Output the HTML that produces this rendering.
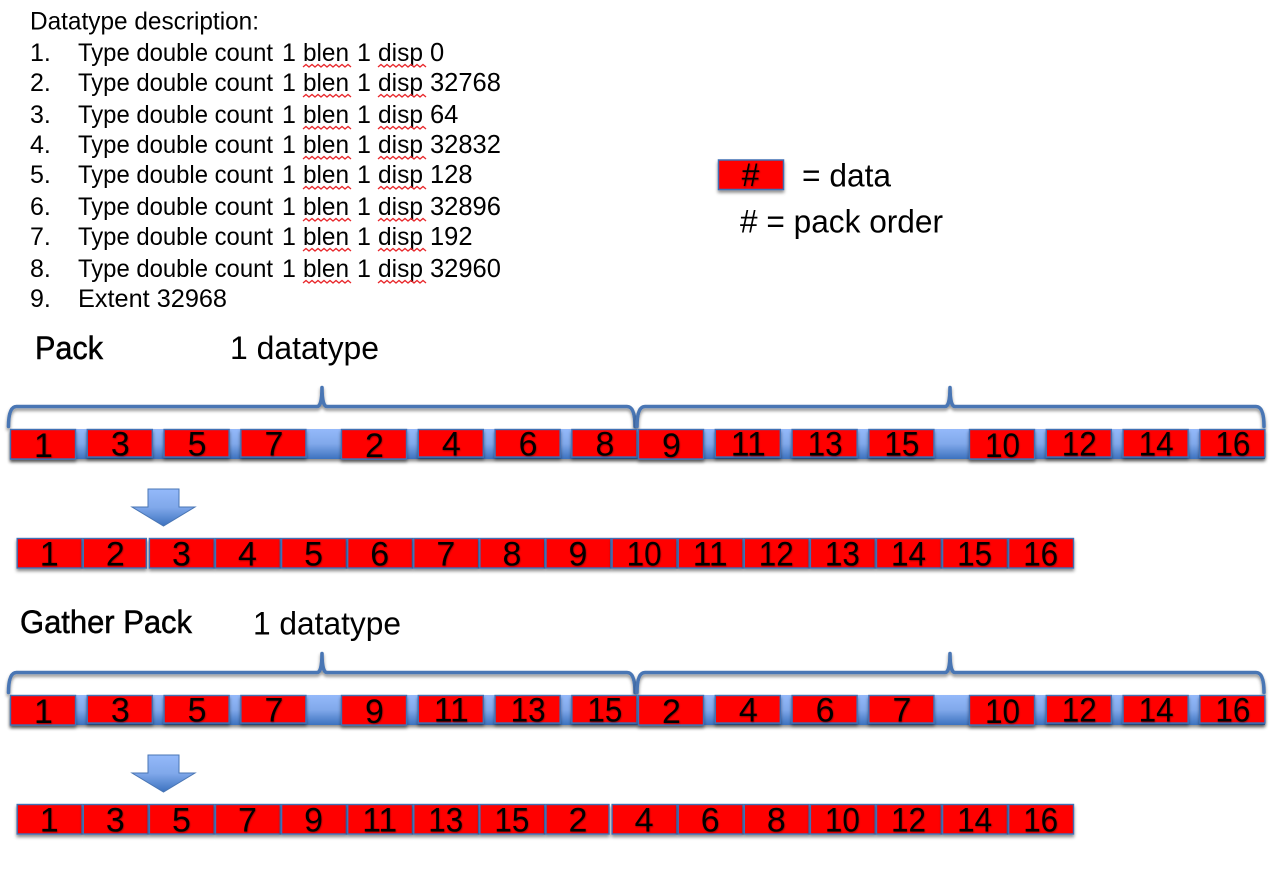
<!DOCTYPE html>
<html>
<head>
<meta charset="utf-8">
<title>Datatype pack order</title>
<style>
html,body{margin:0;padding:0;background:#fff;width:1272px;height:870px;overflow:hidden}
svg{display:block}
text{font-family:"Liberation Sans",sans-serif;fill:#000}
.d{font-size:25px}
.v{font-size:25.5px}
.h{font-size:32px}
.n{font-size:34px;text-anchor:middle;filter:url(#glow)}
.sq{fill:none;stroke:#e8262a;stroke-width:1.3}
.br{fill:none;stroke:#4a76b4;stroke-width:3.6;stroke-linecap:round;stroke-linejoin:round}
</style>
</head>
<body>
<svg id="diagram" xmlns="http://www.w3.org/2000/svg" width="1272" height="870" viewBox="0 0 1272 870">
<defs>
<linearGradient id="blue" x1="0" y1="0" x2="0" y2="1">
<stop offset="0" stop-color="#94b9fa"/><stop offset="0.5" stop-color="#80a8ea"/><stop offset="1" stop-color="#3c72bf"/>
</linearGradient>
<filter id="sh" x="-10%" y="-20%" width="120%" height="150%">
<feDropShadow dx="0" dy="2.5" stdDeviation="1.6" flood-color="#000" flood-opacity="0.45"/>
</filter>
<filter id="glow" x="-10%" y="-10%" width="120%" height="120%">
<feDropShadow dx="0.5" dy="0.8" stdDeviation="0.7" flood-color="#400" flood-opacity="0.6"/>
</filter>
</defs>

<g id="description"></g>

<g>
<rect x="718.500" y="160" width="65" height="29.500" fill="#f00" stroke="#3f6fb5" stroke-width="1.500" filter="url(#sh)"/>
<text x="750.500" y="186" font-size="32" text-anchor="middle" filter="url(#glow)">#</text>
<text x="802" y="186.500" class="h" textLength="89" lengthAdjust="spacingAndGlyphs">= data</text>
<text x="740" y="232.500" class="h" textLength="203" lengthAdjust="spacingAndGlyphs"># = pack order</text>
</g>

<text x="35" y="359" class="h" stroke="#000" stroke-width="0.5" textLength="68" lengthAdjust="spacingAndGlyphs">Pack</text>
<text x="230" y="359" class="h" textLength="149" lengthAdjust="spacingAndGlyphs">1 datatype</text>
<text x="20" y="633" class="h" stroke="#000" stroke-width="0.5" textLength="172" lengthAdjust="spacingAndGlyphs">Gather Pack</text>
<text x="253" y="634.500" class="h" textLength="148" lengthAdjust="spacingAndGlyphs">1 datatype</text>

<g id="rows"></g>
</svg>

<script>
var NS = 'http://www.w3.org/2000/svg';
var descriptionTitle = 'Datatype description:';
var displacements = [0, 32768, 64, 32832, 128, 32896, 192, 32960];
var extentValue = 32968;
var packBuffer = [1, 3, 5, 7, 2, 4, 6, 8, 9, 11, 13, 15, 10, 12, 14, 16];
var packResult = [1, 2, 3, 4, 5, 6, 7, 8, 9, 10, 11, 12, 13, 14, 15, 16];
var gatherBuffer = [1, 3, 5, 7, 9, 11, 13, 15, 2, 4, 6, 7, 10, 12, 14, 16];
var gatherResult = [1, 3, 5, 7, 9, 11, 13, 15, 2, 4, 6, 8, 10, 12, 14, 16];

function make(tag, attrs, parent, text) {
  var el = document.createElementNS(NS, tag);
  for (var k in attrs) el.setAttribute(k, attrs[k]);
  if (text !== undefined) el.textContent = text;
  parent.appendChild(el);
  return el;
}

/* description list */
var desc = document.getElementById('description');
var lineBaselines = [61, 91, 123, 153, 183, 215, 245, 277];

var titleEl = make('text', {x: 30, y: 29.5, 'class': 'd', textLength: 229, lengthAdjust: 'spacingAndGlyphs'}, desc, descriptionTitle);



function squiggle(x0, x1, y) {
  var d = 'M' + x0 + ' ' + y, x = x0, up = true;
  while (x < x1) { x += 3; d += ' L' + x + ' ' + (up ? y - 2.5 : y); up = !up; }
  var s = make('path', {d: d, 'class': 'sq'}, desc);
  
  
}

displacements.forEach(function (disp, i) {
  var y = lineBaselines[i];
  var t = make('text', {y: y, 'class': 'd'}, desc);
  
  
  make('tspan', {x: 30}, t, (i + 1) + '.');
  make('tspan', {x: 78, textLength: 195, lengthAdjust: 'spacingAndGlyphs'}, t, 'Type double count');
  make('tspan', {x: 282}, t, '1');
  make('tspan', {x: 303, textLength: 46, lengthAdjust: 'spacingAndGlyphs'}, t, 'blen');
  make('tspan', {x: 357}, t, '1');
  make('tspan', {x: 378, textLength: 45, lengthAdjust: 'spacingAndGlyphs'}, t, 'disp');
  make('tspan', {x: 430, 'class': 'v'}, t, String(disp));
  squiggle(303, 350, y + 6);
  squiggle(378, 424, y + 6);
});

var extentLine = make('text', {y: 307, 'class': 'd'}, desc);


make('tspan', {x: 30}, extentLine, '9.');
make('tspan', {x: 78, textLength: 149, lengthAdjust: 'spacingAndGlyphs'}, extentLine, 'Extent ' + extentValue);

/* rows */
var rows = document.getElementById('rows');

function bufferX(i) {
  return 10 + (i % 4) * 76.8 + (Math.floor(i / 4) % 2) * 331 + Math.floor(i / 8) * 628;
}
function flatX(i) {
  return 16.7 + i * 66.1;
}

function brace(x0, x1, tip, y) {
  var d = 'M' + x0 + ' ' + (y + 20) + ' Q' + x0 + ' ' + y + ' ' + (x0 + 8) + ' ' + y +
    ' L' + (tip - 5) + ' ' + y + ' Q' + tip + ' ' + y + ' ' + tip + ' ' + (y - 19) +
    ' Q' + tip + ' ' + y + ' ' + (tip + 5) + ' ' + y +
    ' L' + (x1 - 8) + ' ' + y + ' Q' + x1 + ' ' + y + ' ' + x1 + ' ' + (y + 20);
  var b = make('path', {d: d, 'class': 'br', filter: 'url(#sh)'}, rows);
  
  
}

function cellLabel(x, y, v, name) {
  var s = String(v);
  var attrs = {x: x, y: y, 'class': 'n'};
  if (s.length > 1) { attrs.textLength = 35; attrs.lengthAdjust = 'spacingAndGlyphs'; }
  var t = make('text', attrs, rows, s);
  
  
}

function bufferRow(values, top) {
  var strip = make('rect', {x: 10, y: top, width: 1255, height: 30, fill: 'url(#blue)', filter: 'url(#sh)'}, rows);
  
  
  values.forEach(function (v, i) {
    var tall = i % 4 === 0;
    var h = tall ? 30 : 28;
    var c = make('rect', {x: bufferX(i) + 0.5, y: top + 0.5, width: 65, height: h - 0.5, fill: '#f00', stroke: '#3f6fb5', 'stroke-width': 1.4, filter: 'url(#sh)'}, rows);
    
    
    cellLabel(bufferX(i) + 33.5, top + (tall ? 28 : 26.5), v, 'buffer-cell-label');
  });
}

function flatRow(values, top, gapAfter) {
  values.forEach(function (v, i) {
    var w = i === gapAfter ? 63 : 64.8;
    var c = make('rect', {x: flatX(i) + 0.5, y: top + 0.5, width: w, height: 29.5, fill: '#f00', stroke: '#3f6fb5', 'stroke-width': 1.4, filter: 'url(#sh)'}, rows);
    
    
    cellLabel(flatX(i) + 32.5, top + 27.5, v, 'packed-cell-label');
  });
}

function arrow(top) {
  var cx = 163.5;
  var pts = [[cx - 15.5, top], [cx + 15.5, top], [cx + 15.5, top + 18], [cx + 31.5, top + 18], [cx, top + 37], [cx - 31.5, top + 18], [cx - 15.5, top + 18]];
  var a = make('polygon', {points: pts.map(function (p) { return p.join(','); }).join(' '), fill: 'url(#blue)', stroke: '#4a76b4', 'stroke-width': 1}, rows);
  
  
}

brace(8.5, 635, 322, 406.500);
brace(637, 1264, 950, 406.500);
bufferRow(packBuffer, 429);
arrow(489);
flatRow(packResult, 538, 1);

brace(8.5, 635, 322, 672.500);
brace(637, 1264, 950, 672.500);
bufferRow(gatherBuffer, 695);
arrow(755);
flatRow(gatherResult, 804, 8);
</script>
</body>
</html>
